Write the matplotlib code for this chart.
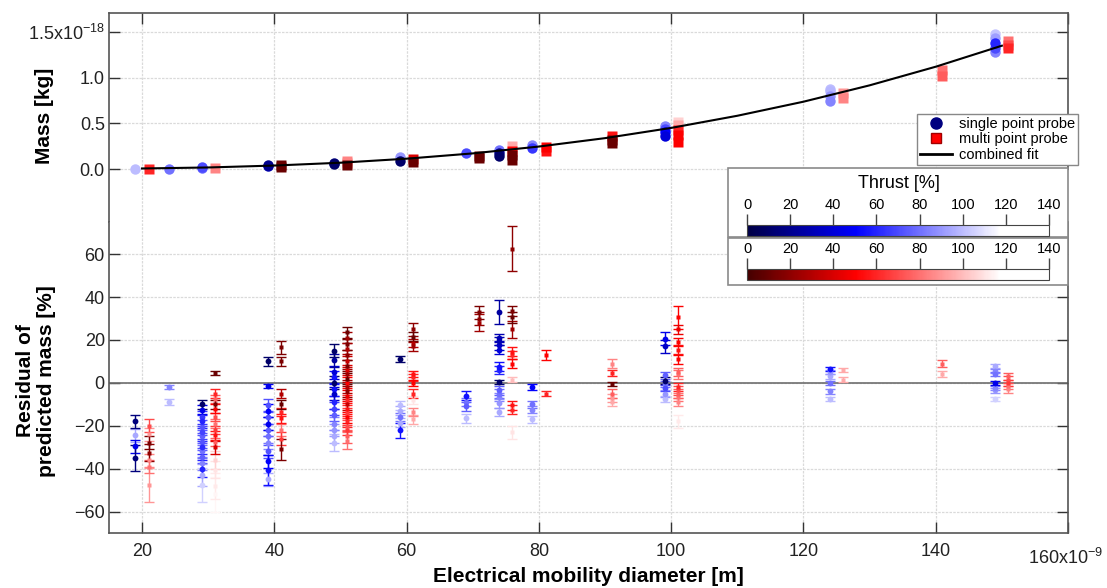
import matplotlib

matplotlib.use("Agg")
import matplotlib.pyplot as plt
from matplotlib.colors import LinearSegmentedColormap, Normalize
from matplotlib.cm import ScalarMappable
from matplotlib.lines import Line2D
from matplotlib.patches import Rectangle

plt.rcParams["font.family"] = ["Liberation Sans", "DejaVu Sans"]
plt.rcParams["mathtext.default"] = "regular"

# ---- top panel: mass vs diameter (diameter in nm, mass in 1e-18 kg) ----
single_top_d = [19, 24, 29, 29, 39, 39, 49, 49, 59, 59, 69, 74, 74, 74, 79, 79,
                99, 99, 99, 99, 124, 124, 124, 124, 149, 149, 149, 149, 149]
single_top_mass = [0.0, 0.005, 0.01, 0.02, 0.03, 0.045, 0.05, 0.07, 0.09, 0.13, 0.17,
                   0.14, 0.17, 0.21, 0.23, 0.26, 0.36, 0.40, 0.44, 0.47,
                   0.75, 0.80, 0.85, 0.88, 1.28, 1.33, 1.38, 1.43, 1.48]
single_top_thrust = [100, 80, 78, 70, 30, 20, 10, 15, 10, 90, 70, 10, 20, 80, 65, 85,
                     40, 50, 70, 85, 85, 90, 98, 100, 85, 70, 60, 92, 102]

multi_top_d = [21, 31, 41, 41, 51, 51, 51, 61, 61, 71, 71, 76, 76, 76, 76, 81, 81,
               91, 91, 91, 101, 101, 101, 101, 101, 126, 126, 141, 141, 151, 151, 151]
multi_top_mass = [0.0, 0.01, 0.02, 0.04, 0.04, 0.07, 0.09, 0.08, 0.11, 0.12, 0.14,
                  0.10, 0.15, 0.20, 0.25, 0.20, 0.24, 0.28, 0.32, 0.36,
                  0.30, 0.37, 0.43, 0.48, 0.52, 0.78, 0.83, 1.02, 1.08, 1.32, 1.36, 1.40]
multi_top_thrust = [60, 85, 10, 10, 10, 85, 85, 10, 40, 10, 10, 10, 10, 50, 95, 55, 50,
                    10, 15, 55, 50, 50, 60, 95, 105, 85, 90, 75, 80, 60, 70, 80]

fit_d = [20, 30, 40, 50, 60, 70, 80, 90, 100, 110, 120, 130, 140, 150]
fit_mass = [0.006, 0.017, 0.038, 0.069, 0.113, 0.171, 0.246, 0.338, 0.450,
            0.583, 0.737, 0.916, 1.120, 1.350]

# ---- bottom panel: residuals [%] ----
single_res_d = [
    19, 19, 19, 19,
    24, 24,
    29, 29, 29, 29, 29, 29, 29, 29, 29, 29, 29, 29, 29, 29, 29,
    39, 39, 39, 39, 39, 39, 39, 39, 39, 39, 39, 39, 39,
    49, 49, 49, 49, 49, 49, 49, 49, 49, 49, 49, 49, 49, 49,
    59, 59, 59, 59, 59, 59,
    69, 69, 69, 69,
    74, 74, 74, 74, 74, 74, 74, 74, 74, 74, 74, 74, 74,
    79, 79, 79, 79,
    99, 99, 99, 99, 99, 99, 99, 99,
    124, 124, 124, 124, 124, 124,
    149, 149, 149, 149, 149, 149, 149,
]
single_res = [
    -18, -24.5, -29.5, -35,
    -2, -9,
    -10, -12.5, -16, -18, -20.5, -23, -25, -27.5, -30, -32, -34.5, -37.5, -40, -43, -47.5,
    10, -1.5, -10.5, -13, -16, -19, -22, -25, -28, -32, -36.5, -40.5, -45,
    15, 10.5, 5, 2.5, 0, -3, -5, -9, -12, -15, -19, -22, -25, -28,
    11, -10.5, -13, -16, -18.5, -22,
    -6, -9, -11, -16.5,
    33, 21, 19.5, 17.5, 15.5, 7.5, 6, 0.5, -3.5, -5, -6.5, -9.5, -13.5,
    -2, -10, -12.5, -17,
    20.5, 17, 3.5, 1, -0.5, -2.5, -5, -7.5,
    6.5, 5, 3, 0, -4, -7.5,
    8, 5.5, 4, 0, -2.5, -3.5, -7.5,
]
single_res_err = [
    3, 3, 3, 6,
    1, 1.5,
    2, 2, 3, 3, 3, 3, 3, 3, 3, 3, 3, 3, 4, 5, 8,
    2, 1, 3, 3, 3, 3, 3, 3, 3, 3, 3, 7, 3,
    3, 3, 3, 3, 3, 3, 3, 3, 3, 3, 3, 3, 3, 4,
    1.5, 2, 2, 2, 2, 3.5,
    2, 2, 2, 2,
    5.5, 2, 2, 2, 2, 2, 2, 1, 2, 2, 2, 2, 2,
    1.5, 1.5, 1.5, 1.5,
    3, 3, 1.5, 1.5, 1.5, 1.5, 1.5, 1.5,
    1, 1, 1, 1, 1, 1,
    1, 1, 1, 1, 1, 1, 1,
]
single_res_thrust = [
    15, 95, 45, 15,
    85, 100,
    10, 45, 65, 60, 72, 68, 75, 72, 62, 80, 75, 85, 60, 95, 105,
    10, 45, 72, 50, 72, 45, 75, 80, 85, 72, 50, 55, 95,
    10, 25, 40, 55, 10, 55, 35, 60, 68, 75, 85, 90, 95, 100,
    10, 100, 95, 80, 95, 55,
    55, 80, 75, 100,
    25, 30, 30, 35, 40, 55, 60, 10, 75, 80, 85, 90, 95,
    50, 80, 85, 100,
    45, 35, 75, 10, 80, 70, 90, 100,
    55, 90, 95, 80, 85, 100,
    95, 85, 80, 45, 85, 90, 105,
]

multi_res_d = [
    21, 21, 21, 21, 21, 21, 21,
    31, 31, 31, 31, 31, 31, 31, 31, 31, 31, 31, 31, 31, 31, 31,
    41, 41, 41, 41, 41, 41, 41, 41, 41,
    51, 51, 51, 51, 51, 51, 51, 51, 51, 51, 51, 51, 51, 51, 51, 51, 51, 51, 51, 51, 51, 51, 51, 51,
    61, 61, 61, 61, 61, 61, 61, 61, 61, 61, 61,
    71, 71, 71,
    76, 76, 76, 76, 76, 76, 76, 76, 76, 76, 76,
    81, 81,
    91, 91, 91, 91, 91, 91,
    101, 101, 101, 101, 101, 101, 101, 101, 101, 101, 101, 101, 101,
    126, 126,
    141, 141,
    151, 151, 151, 151, 151,
]
multi_res = [
    -20, -24, -28, -32.5, -36, -39, -47.5,
    4.5, -5, -7.5, -10, -12, -16, -19, -22, -24.5, -27.5, -30, -36, -40.5, -48, -52,
    16.5, 10, -5, -10, -13.5, -16.5, -22, -26, -31,
    23.5, 21, 18, 16, 13, 10, 8, 6, 4, 2, 0, -2, -4, -6, -8, -10, -12, -14, -16, -18, -20, -22, -25, -27,
    25, 21.5, 18.5, 17, 4, 2.5, 0, -5, -8, -13.5, -17,
    33, 30, 28,
    62.5, 33.5, 30.5, 25, 14.5, 13, 9, 1.5, -10.5, -12.5, -23,
    13, -5,
    9, 4.5, -0.5, -5, -7, -9,
    30.5, 25, 19, 15.5, 11, 5, 4, -2, -3.5, -5, -6.5, -9, -18,
    6, 1.5,
    9, 4,
    3, 1.5, 0, -1.5, -3,
]
multi_res_err = [
    3, 3, 3, 4, 3, 3, 8,
    0.8, 2, 2, 2, 2, 2, 2, 2, 2, 2, 3, 4, 4, 6, 8,
    3, 2, 2, 2, 2, 2, 3, 3, 5,
    2.5, 2.5, 2.5, 2.5, 2.5, 2.5, 2.5, 2.5, 2.5, 2.5, 2.5, 2.5, 2.5, 2.5, 2.5, 2.5, 2.5, 2.5, 2.5, 2.5, 2.5, 2.5, 3, 4,
    3, 2, 2, 2, 1.5, 1.5, 1.5, 2, 2, 2, 2,
    3, 3, 4,
    10.5, 2.5, 2.5, 4, 2, 2, 2, 1, 2, 2, 3,
    2.5, 1,
    2, 1.5, 1, 2, 2, 2,
    5.5, 2, 2, 2, 2, 2, 2, 2, 2, 2, 2, 2, 3,
    1, 1,
    1.5, 1.5,
    1.5, 1.5, 1.5, 1.5, 1.5,
]
multi_res_thrust = [
    70, 90, 15, 20, 85, 80, 90,
    10, 60, 75, 15, 50, 70, 80, 65, 55, 75, 40, 105, 110, 112, 115,
    15, 15, 30, 10, 60, 55, 80, 65, 15,
    10, 25, 15, 30, 20, 35, 15, 40, 25, 10, 50, 30, 20, 45, 60, 35, 55, 65, 50, 60, 70, 65, 75, 80,
    20, 10, 30, 25, 55, 60, 50, 60, 110, 85, 95,
    15, 20, 25,
    20, 15, 10, 25, 55, 60, 50, 100, 55, 60, 110,
    50, 60,
    85, 60, 10, 75, 90, 95,
    50, 45, 50, 55, 50, 75, 80, 60, 70, 75, 80, 85, 112,
    95, 95,
    75, 95,
    75, 70, 65, 80, 85,
]

x_ticks = [20, 40, 60, 80, 100, 120, 140, 160]
x_ticklabels = ["20", "40", "60", "80", "100", "120", "140", ""]
mass_ticks = [0.0, 0.5, 1.0, 1.5]
mass_ticklabels = ["0.0", "0.5", "1.0", r"1.5x10$^{-18}$"]
res_ticks = [-60, -40, -20, 0, 20, 40, 60]
thrust_ticks = [0, 20, 40, 60, 80, 100, 120, 140]

W, H = 1107, 588
blue_cmap = LinearSegmentedColormap.from_list(
    "thr_blue", [(0.0, "#000045"), (0.36, "#0000ff"), (0.84, "#ffffff"), (1.0, "#ffffff")])
red_cmap = LinearSegmentedColormap.from_list(
    "thr_red", [(0.0, "#450000"), (0.36, "#ff0000"), (0.84, "#ffffff"), (1.0, "#ffffff")])
norm = Normalize(0, 140)

SPINE = "#555555"
GRID = dict(color="#dadada", linestyle=(0, (2, 1)), linewidth=0.9)


def box(l, t, r, b):
    return [l / W, 1 - b / H, (r - l) / W, (b - t) / H]


fig = plt.figure(figsize=(W / 100, H / 100), dpi=100)
ax_top = fig.add_axes(box(109, 13, 1068, 222))
ax_bot = fig.add_axes(box(109, 222, 1068, 533))

for ax in (ax_top, ax_bot):
    ax.set_xlim(15, 160)
    ax.set_xticks(x_ticks)
    for s in ax.spines.values():
        s.set_color(SPINE)
        s.set_linewidth(1.2)
    ax.tick_params(direction="in", length=8, width=1, color="#333333",
                   labelsize=13, labelcolor="#222222", right=True)
    ax.grid(True, **GRID)
    ax.set_axisbelow(True)

# top panel
ax_top.set_ylim(-0.58, 1.708)
ax_top.set_yticks(mass_ticks)
ax_top.set_yticklabels(mass_ticklabels)
ax_top.spines["bottom"].set_visible(False)
ax_top.spines["right"].set_bounds(0.0, 1.708)
ax_top.tick_params(axis="x", bottom=False, top=True, labelbottom=False)
ax_top.tick_params(axis="y", pad=3)

order = sorted(range(len(single_top_d)), key=lambda i: -single_top_thrust[i])
for i in order:
    ax_top.plot(single_top_d[i], single_top_mass[i], "o", ms=7.5, mec="none",
                color=blue_cmap(norm(single_top_thrust[i])), zorder=3)
order = sorted(range(len(multi_top_d)), key=lambda i: -multi_top_thrust[i])
for i in order:
    ax_top.plot(multi_top_d[i], multi_top_mass[i], "s", ms=6.8, mec="none",
                color=red_cmap(norm(multi_top_thrust[i])), zorder=3)
ax_top.plot(fit_d, fit_mass, color="black", lw=1.5, zorder=4)

# bottom panel
ax_bot.set_ylim(-70, 75)
ax_bot.set_yticks(res_ticks)
ax_bot.set_xticklabels(x_ticklabels)
ax_bot.spines["top"].set_visible(False)
ax_bot.tick_params(axis="x", pad=7)
ax_bot.tick_params(axis="y", pad=3)
ax_bot.axhline(0, color="#6e6e6e", lw=1.2, zorder=1.5)

order = sorted(range(len(single_res_d)), key=lambda i: -single_res_thrust[i])
for i in order:
    c = blue_cmap(norm(single_res_thrust[i]))
    ax_bot.errorbar(single_res_d[i], single_res[i], yerr=single_res_err[i], fmt="o",
                    ms=4.2, mec="none", color=c, ecolor=c, elinewidth=1, capsize=3.5,
                    capthick=1, zorder=3)
order = sorted(range(len(multi_res_d)), key=lambda i: -multi_res_thrust[i])
for i in order:
    c = red_cmap(norm(multi_res_thrust[i]))
    ax_bot.errorbar(multi_res_d[i], multi_res[i], yerr=multi_res_err[i], fmt="s",
                    ms=3, mec="none", color=c, ecolor=c, elinewidth=1, capsize=3.5,
                    capthick=1, zorder=3)

# axis labels
fig.text(45 / W, 1 - 116 / H, "Mass [kg]", rotation=90, ha="center", va="center",
         fontsize=15, fontweight="bold")
fig.text(36 / W, 1 - 381 / H, "Residual of\npredicted mass [%]", rotation=90,
         ha="center", va="center", multialignment="center", fontsize=15,
         fontweight="bold", linespacing=1.1)
fig.text(588 / W, 1 - 576 / H, "Electrical mobility diameter [m]", ha="center",
         va="center", fontsize=15, fontweight="bold")
fig.text(1066 / W, 1 - 558 / H, r"160x10$^{-9}$", ha="center", va="center",
         fontsize=13, color="#222222")

# legend
handles = [
    Line2D([], [], marker="o", ls="", color="#000080", ms=8),
    Line2D([], [], marker="s", ls="", color="#ff0000", mec="#a00000", ms=7.5),
    Line2D([], [], color="black", lw=2),
]
fig.legend(handles, ["single point probe", "multi point probe", "combined fit"],
           loc="upper left", bbox_to_anchor=(917 / W, 1 - 114 / H), fontsize=10.5,
           frameon=True, fancybox=False, framealpha=1, edgecolor="#888888",
           handlelength=2.2, handletextpad=0.5, labelspacing=0.1, borderpad=0.2,
           borderaxespad=0)

# thrust colour scales
fig.add_artist(Rectangle((728 / W, 1 - 237 / H), 340 / W, 69 / H, transform=fig.transFigure,
                         facecolor="white", edgecolor="#8a8a8a", lw=1.2, zorder=2))
fig.add_artist(Rectangle((728 / W, 1 - 285 / H), 340 / W, 47 / H, transform=fig.transFigure,
                         facecolor="white", edgecolor="#8a8a8a", lw=1.2, zorder=2))
fig.text(899 / W, 1 - 184 / H, "Thrust [%]", ha="center", va="center", fontsize=13,
         zorder=5)

for cmap, (top, bot) in ((blue_cmap, (225, 236)), (red_cmap, (269, 280))):
    cax = fig.add_axes(box(747, top, 1049, bot), zorder=5)
    cb = fig.colorbar(ScalarMappable(norm=norm, cmap=cmap), cax=cax,
                      orientation="horizontal", ticklocation="top")
    cb.set_ticks(thrust_ticks)
    cb.outline.set_edgecolor("#444444")
    cb.outline.set_linewidth(0.8)
    cax.tick_params(direction="out", length=8, width=1, color="#444444",
                    labelsize=10.5, pad=1.5)

fig.savefig("out.png", dpi=100)
